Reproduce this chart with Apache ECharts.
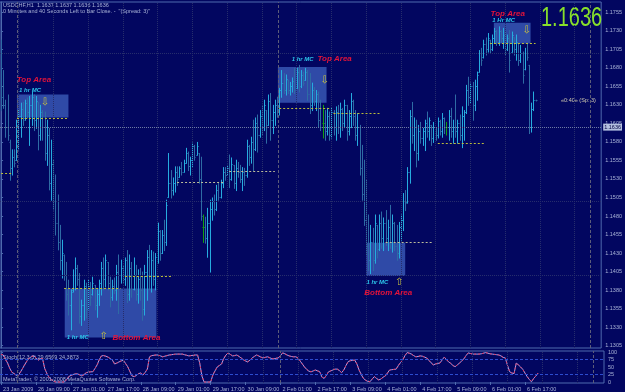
<!DOCTYPE html>
<html><head><meta charset="utf-8">
<script src="https://cdn.jsdelivr.net/npm/echarts@6/dist/echarts.min.js"></script>
<style>html,body{margin:0;padding:0;background:#020660;}#c{width:625px;height:392px;}</style>
</head><body><div id="c"></div><script>
// ---------- DATA (prices in pips: 11650 = 1.1650) ----------
const tickLabels = ['23 Jan 2009','26 Jan 09:00','27 Jan 01:00','27 Jan 17:00','28 Jan 09:00','29 Jan 01:00','29 Jan 17:00','30 Jan 09:00','2 Feb 01:00','2 Feb 17:00','3 Feb 09:00','4 Feb 01:00','4 Feb 17:00','5 Feb 09:00','6 Feb 01:00','6 Feb 17:00'];
const tickIndex = [0,16,32,48,64,80,96,112,128,144,160,176,192,208,224,240];
const priceTicks = [1.1305,1.1330,1.1355,1.1380,1.1405,1.1430,1.1455,1.1480,1.1505,1.1530,1.1555,1.1580,1.1605,1.1630,1.1655,1.1680,1.1705,1.1730,1.1755];
const gridPrices = [1.1355,1.1430,1.1505,1.1580,1.1655,1.1730];
const gridBars = [8,24,40,56,72,88,104,120,136,152,168,184,200,216,232,248,264];
const separatorBars = [7.3,127.7,271.2];
const stochTicks = [0,25,50,75,100];
const stochLevels = [25,75];

const open = [
11700,11640,11630,11600,11580,11545,11560,11556,11600,11615,
11625,11612,11632,11620,11630,11640,11610,11634,11590,11620,
11600,11565,11590,11525,11550,11500,11470,11445,11420,11428,
11400,11375,11360,11380,11400,11410,11395,11345,11360,11385,
11355,11385,11375,11387,11360,11375,11390,11410,11395,11418,
11390,11370,11385,11380,11405,11400,11410,11395,11420,11375,
11410,11382,11400,11375,11395,11380,11355,11405,11425,11400,
11420,11395,11425,11460,11430,11455,11445,11506,11525,11515,
11525,11540,11533,11545,11540,11552,11565,11548,11556,11575,
11563,11565,11530,11465,11465,11450,11470,11490,11500,11490,
11515,11505,11525,11540,11536,11545,11530,11549,11525,11545,
11540,11530,11540,11535,11575,11560,11580,11570,11605,11590,
11615,11600,11623,11603,11635,11610,11620,11630,11625,11650,
11660,11650,11664,11650,11655,11662,11653,11675,11655,11670,
11664,11675,11645,11630,11650,11635,11645,11610,11605,11605,
11595,11615,11590,11620,11600,11620,11600,11625,11605,11630,
11595,11615,11635,11615,11590,11600,11545,11510,11475,11440,
11420,11445,11420,11468,11435,11470,11450,11470,11450,11465,
11445,11470,11440,11430,11465,11475,11500,11499,11540,11615,
11590,11600,11565,11595,11585,11595,11605,11595,11603,11585,
11600,11590,11608,11595,11612,11600,11600,11615,11595,11600,
11595,11605,11590,11615,11620,11650,11640,11655,11630,11655,
11675,11700,11694,11712,11705,11718,11705,11720,11730,11715,
11730,11720,11725,11705,11720,11702,11721,11705,11714,11690,
11700,11678,11700,11684,11600,11625,11637];
const high = [
11718,11677,11637,11644,11583,11570,11570,11610,11624,11633,
11634,11637,11640,11642,11648,11644,11642,11634,11630,11623,
11621,11610,11599,11583,11556,11536,11509,11468,11448,11428,
11418,11394,11381,11408,11424,11414,11403,11367,11394,11390,
11394,11391,11398,11387,11381,11394,11418,11424,11428,11418,
11398,11394,11397,11414,11428,11421,11414,11424,11434,11428,
11418,11424,11414,11408,11410,11405,11414,11434,11441,11434,
11432,11430,11471,11461,11461,11475,11502,11565,11542,11532,
11547,11547,11547,11553,11556,11572,11567,11560,11579,11576,
11580,11565,11560,11482,11479,11491,11502,11505,11509,11522,
11526,11529,11546,11546,11549,11563,11559,11549,11556,11553,
11549,11546,11545,11583,11576,11587,11610,11613,11617,11623,
11630,11637,11623,11644,11646,11630,11637,11641,11653,11677,
11673,11671,11664,11661,11667,11680,11680,11684,11677,11675,
11680,11677,11673,11660,11654,11650,11648,11637,11630,11623,
11626,11621,11626,11623,11628,11630,11633,11626,11637,11630,
11623,11646,11637,11623,11619,11603,11576,11556,11529,11482,
11468,11464,11482,11468,11482,11486,11478,11488,11475,11495,
11482,11472,11468,11472,11482,11511,11515,11546,11623,11634,
11613,11610,11603,11607,11599,11610,11621,11613,11603,11607,
11600,11613,11610,11619,11613,11607,11623,11626,11610,11644,
11610,11617,11628,11623,11657,11668,11660,11661,11664,11675,
11704,11707,11718,11721,11727,11718,11725,11734,11731,11736,
11731,11734,11729,11725,11731,11729,11721,11725,11714,11711,
11702,11707,11714,11684,11633,11648,11637];
const low = [
11623,11626,11587,11583,11529,11536,11547,11556,11570,11587,
11603,11610,11613,11576,11603,11596,11599,11570,11583,11583,
11556,11549,11516,11502,11489,11455,11435,11408,11397,11394,
11367,11347,11327,11378,11381,11387,11336,11333,11340,11343,
11354,11360,11374,11354,11344,11360,11374,11381,11385,11381,
11358,11367,11376,11367,11349,11390,11391,11387,11364,11367,
11371,11381,11367,11363,11367,11340,11347,11367,11381,11378,
11387,11381,11417,11421,11430,11434,11441,11506,11505,11509,
11513,11522,11533,11536,11540,11552,11542,11536,11547,11556,
11563,11525,11475,11445,11444,11425,11405,11475,11482,11488,
11502,11505,11519,11529,11536,11519,11529,11518,11515,11533,
11526,11515,11522,11533,11549,11552,11542,11569,11567,11587,
11590,11596,11579,11603,11583,11592,11603,11614,11617,11641,
11646,11644,11646,11644,11648,11646,11653,11648,11654,11657,
11664,11637,11619,11623,11630,11623,11601,11596,11586,11583,
11590,11583,11586,11590,11583,11592,11587,11596,11600,11583,
11590,11600,11603,11583,11576,11536,11502,11468,11428,11407,
11403,11407,11417,11424,11434,11437,11434,11441,11434,11437,
11432,11434,11421,11424,11448,11461,11488,11498,11525,11579,
11569,11547,11556,11579,11576,11569,11587,11583,11576,11580,
11583,11586,11590,11587,11592,11590,11583,11587,11579,11587,
11579,11583,11573,11583,11619,11630,11633,11610,11623,11637,
11675,11684,11694,11698,11702,11700,11704,11714,11711,11711,
11715,11707,11698,11704,11675,11702,11698,11691,11684,11688,
11660,11678,11691,11592,11594,11623,11636];
const close = [
11640,11630,11600,11590,11545,11560,11552,11600,11615,11625,
11610,11632,11620,11630,11640,11610,11635,11590,11620,11600,
11565,11590,11525,11550,11500,11470,11445,11420,11430,11400,
11375,11360,11378,11400,11410,11395,11345,11360,11385,11355,
11385,11370,11390,11360,11375,11390,11410,11395,11420,11390,
11370,11385,11380,11405,11400,11410,11395,11420,11375,11410,
11382,11400,11375,11395,11380,11355,11405,11425,11400,11420,
11395,11425,11460,11430,11455,11445,11495,11525,11515,11525,
11540,11530,11545,11540,11552,11565,11548,11556,11575,11560,
11575,11530,11480,11465,11450,11470,11490,11500,11490,11515,
11505,11525,11540,11535,11545,11530,11550,11525,11545,11540,
11530,11540,11535,11575,11560,11580,11570,11605,11590,11615,
11600,11630,11600,11635,11610,11620,11630,11625,11650,11660,
11650,11665,11650,11655,11662,11650,11675,11655,11670,11660,
11675,11645,11630,11650,11635,11645,11610,11600,11605,11595,
11615,11590,11620,11600,11620,11600,11625,11605,11630,11595,
11615,11635,11615,11590,11600,11545,11510,11475,11440,11420,
11445,11420,11470,11435,11470,11450,11470,11450,11465,11445,
11470,11440,11430,11465,11475,11500,11497,11540,11615,11590,
11600,11565,11595,11585,11595,11605,11595,11610,11585,11600,
11590,11608,11595,11612,11600,11600,11615,11595,11600,11595,
11605,11590,11615,11620,11650,11640,11655,11630,11655,11670,
11700,11690,11712,11705,11720,11705,11720,11730,11715,11730,
11720,11725,11705,11720,11690,11725,11705,11715,11690,11700,
11670,11700,11695,11600,11625,11637,11636];
const stoch = [
92,90,75,63,45,32,28,22,23,35,
47,60,72,80,85,87,80,73,78,78,
45,28,15,8,3,0,0,0,0,0,
8,18,22,25,27,27,24,20,25,31,
33,34,34,45,57,75,87,88,86,83,
78,73,60,63,67,70,73,62,51,35,
20,18,22,28,30,23,32,43,84,88,
89,90,90,87,84,86,88,90,91,92,
93,93,93,93,91,89,87,88,89,90,
90,63,20,0,0,0,0,23,37,50,
55,60,78,90,97,92,87,88,90,85,
80,74,70,67,73,80,85,90,87,83,
80,82,84,81,78,77,79,80,88,97,
94,90,87,85,84,84,80,70,60,50,
42,36,34,37,40,37,34,16,12,22,
34,37,40,43,43,38,31,40,55,68,
71,72,73,60,40,25,12,6,2,1,
10,18,12,7,10,16,20,30,40,41,
42,43,55,65,73,88,98,96,93,88,
84,85,87,86,83,80,72,64,57,60,
62,63,73,83,75,67,62,55,51,57,
63,70,77,88,97,95,93,93,93,93,
94,96,98,96,94,93,92,91,90,87,
82,80,55,34,30,28,63,57,50,42,
30,18,8,1,12,20,30];

// dashed daily levels: [fromBar, toBar, price(pips), light?]
const levels = [[0,5,11538,0],[7.3,31,11612,0],[29,55,11382,0],[57,79,11399,0],[81,103,11525,1],[105,126,11540,1],[128,152,11626,0],[153,175,11619,0],[177,199,11444,1],[201,223,11578,0],[225,246,11713,0]];
// MC boxes: [fromBar, toBar, topPrice, bottomPrice]
const boxes = [[7.3,31,11644,11613],[29.3,71.5,11382,11316],[127.4,149.8,11681,11633],[168,186,11444,11399],[226.8,243.7,11741,11713]];
// annotations: [text, bar, price, kind]
const notes = [
 ['Top Area',15.1,11664,'area'],['1 hr MC',13.3,11650,'mc'],['⇩',20.2,11634,'arrow'],
 ['1 hr MC',35.3,11316,'mc'],['⇧',47.2,11317,'arrow'],['Bottom Area',62.3,11316,'area'],
 ['1 hr MC',138.8,11691,'mc'],['Top Area',153.5,11692,'area'],['⇩',148.9,11663,'arrow'],
 ['1 hr MC',173.2,11390,'mc'],['⇧',183.2,11391,'arrow'],['Bottom Area',178.2,11376,'area'],
 ['Top Area',233.2,11753,'area'],['1 Hr MC',231.3,11744,'mc'],['⇩',241.9,11730,'arrow']];
const symbolName = 'USDCHF,H1';
const timerText = '0 Minutes and 40 Seconds Left to Bar Close. -  "(Spread: 3)"';
const spreadText = '«0:40» (Sp: 3)';
const stochTitle = 'Stoch(12,3,3) 29.6569 24.3873';
const copyright = 'MetaTrader, © 2001-2008 MetaQuotes Software Corp.';

// ---------- BUILD ----------
const P = v => v / 10000;
const N = high.length;
const upBars = [], downBars = [], dojiBars = [];
for (let i = 0; i < N; i++) {
  const row = [i, P(open[i]), P(close[i]), P(low[i]), P(high[i])];
  if (close[i] > open[i]) upBars.push(row); else if (close[i] < open[i]) downBars.push(row); else dojiBars.push(row);
}
const stochData = stoch.map((v, i) => [i, v]);
const lastPrice = P(close[N - 1]);
const f4 = v => v.toFixed(4);
const infoLine = symbolName + '  ' + [open[N-1], high[N-1], low[N-1], close[N-1]].map(v => f4(P(v))).join(' ');

const BG = '#020660', FRAME = '#4F6AAE', TXT = '#A8B2D6', GRIDC = '#262D6C', SEPC = '#5C5C78';
const UP = '#26ACDF', DOWN = '#2E6BA4', DOJI = '#12A012';
const FONT = 'Liberation Sans';
const XMIN = -0.5, XMAX = 276.2;

const annoStyle = {
  area: {color: '#E3143A', fontSize: 8, fontWeight: 'bold', fontStyle: 'italic', fontFamily: FONT},
  mc: {color: '#2CC6EA', fontSize: 6, fontWeight: 'bold', fontStyle: 'italic', fontFamily: FONT},
  arrow: {color: '#C8C040', fontSize: 10, fontFamily: 'DejaVu Sans'}
};

function barRenderer(params, api) {
  const i = api.value(0), o = api.value(1), c = api.value(2), l = api.value(3), h = api.value(4);
  const pH = api.coord([i, h]), pL = api.coord([i, l]), pO = api.coord([i, o]), pC = api.coord([i, c]);
  const x = Math.round(pH[0]) + 0.5;
  const col = api.visual('color');
  const yo = Math.round(pO[1]) + 0.5, yc = Math.round(pC[1]) + 0.5;
  const st = {stroke: col, fill: null, lineWidth: 1};
  return {type: 'group', children: [
    {type: 'line', shape: {x1: x, y1: pH[1], x2: x, y2: pL[1] + 1}, style: st},
    {type: 'line', shape: {x1: x - 1, y1: yo, x2: x, y2: yo}, style: st},
    {type: 'line', shape: {x1: x, y1: yc, x2: x + 1, y2: yc}, style: st}
  ]};
}
const barSeries = (data, color) => ({type: 'custom', xAxisIndex: 0, yAxisIndex: 0, z: 3, data, silent: true,
  itemStyle: {color}, encode: {x: 0, y: [1, 2, 3, 4]}, renderItem: barRenderer});

const chart = echarts.init(document.getElementById('c'), null, {renderer: 'canvas'});
const vline = (vals, style) => vals.map(v => ({xAxis: v, lineStyle: style}));

chart.setOption({
  backgroundColor: BG,
  animation: false,
  textStyle: {fontFamily: FONT},
  grid: [
    {left: 0, top: 2, width: 604, height: 346, show: true, borderColor: FRAME, borderWidth: 1, backgroundColor: 'transparent'},
    {left: 0, top: 351, width: 604, height: 32, show: true, borderColor: FRAME, borderWidth: 1, backgroundColor: 'transparent'}
  ],
  xAxis: [
    {type: 'value', gridIndex: 0, min: XMIN, max: XMAX, axisLine: {show: false}, axisTick: {show: false}, axisLabel: {show: false}, splitLine: {show: false}},
    {type: 'value', gridIndex: 1, min: XMIN, max: XMAX, axisLine: {show: false}, splitLine: {show: false},
      axisTick: {show: true, customValues: tickIndex, length: 3, lineStyle: {color: FRAME}},
      axisLabel: {show: true, customValues: tickIndex, formatter: v => tickLabels[tickIndex.indexOf(Math.round(v))] || '', align: 'left', margin: 3, fontSize: 5.5, color: TXT, fontFamily: FONT, padding: [0, 0, 0, 2]}}
  ],
  yAxis: [
    {type: 'value', gridIndex: 0, position: 'right', min: 1.13018, max: 1.17689, splitLine: {show: false},
      axisLine: {show: true, lineStyle: {color: FRAME}},
      axisTick: {show: true, customValues: priceTicks, length: 2, lineStyle: {color: FRAME}},
      axisLabel: {customValues: priceTicks, formatter: v => f4(v), fontSize: 5.5, color: TXT, margin: 4, fontFamily: FONT}},
    {type: 'value', gridIndex: 1, position: 'right', min: -3.3, max: 103.3, splitLine: {show: false},
      axisLine: {show: true, lineStyle: {color: FRAME}},
      axisTick: {show: true, customValues: stochTicks, length: 2, lineStyle: {color: FRAME}},
      axisLabel: {customValues: stochTicks, fontSize: 5.5, color: TXT, margin: 4, fontFamily: FONT}}
  ],
  series: [
    { // background objects: grid, boxes, separators, levels
      type: 'line', xAxisIndex: 0, yAxisIndex: 0, data: [], z: 1, silent: true,
      markArea: {silent: true, itemStyle: {color: 'rgba(86,132,226,0.55)'},
        data: boxes.map(b => [{coord: [b[0], P(b[2])]}, {coord: [b[1], P(b[3])]}])},
      markLine: {silent: true, symbol: ['none', 'none'], label: {show: false}, animation: false,
        data: [].concat(
          gridPrices.map(p => ({yAxis: p, lineStyle: {color: GRIDC, type: 'dotted', width: 1}})),
          vline(gridBars, {color: GRIDC, type: 'dotted', width: 1}),
          vline(separatorBars, {color: SEPC, type: [3, 2], width: 1}),
          levels.map(l => [{coord: [l[0], P(l[2])], lineStyle: {color: l[3] ? '#BDBD9A' : '#BCBC3A', type: [2, 2], width: 1}}, {coord: [l[1], P(l[2])]}])
        )}
    },
    barSeries(upBars, UP),
    barSeries(downBars, DOWN),
    barSeries(dojiBars, DOJI),
    { // current price line + annotations
      type: 'line', xAxisIndex: 0, yAxisIndex: 0, data: [], z: 6, silent: true,
      markLine: {silent: true, symbol: ['none', 'none'], animation: false,
        data: [{yAxis: lastPrice, lineStyle: {color: '#6E7AA4', type: 'dotted', width: 1},
          label: {show: true, position: 'end', formatter: f4(lastPrice), color: '#000040', backgroundColor: '#B4C0E0', fontSize: 5.5, padding: [1, 1, 0, 1], distance: 2, fontFamily: FONT}}]},
      markPoint: {silent: true, symbol: 'rect', symbolSize: 1, itemStyle: {color: 'rgba(0,0,0,0)'},
        data: notes.map(n => ({coord: [n[1], P(n[2])], label: Object.assign({show: true, position: 'inside', formatter: n[0]}, annoStyle[n[3]])}))}
    },
    { // stochastic panel objects
      type: 'line', xAxisIndex: 1, yAxisIndex: 1, data: [], z: 1, silent: true,
      markLine: {silent: true, symbol: ['none', 'none'], label: {show: false}, animation: false,
        data: [].concat(
          vline(gridBars, {color: GRIDC, type: 'dotted', width: 1}),
          vline(separatorBars, {color: SEPC, type: [3, 2], width: 1}),
          stochLevels.map(v => ({yAxis: v, lineStyle: {color: '#2D4CD0', type: [3, 2], width: 1}}))
        )}
    },
    {type: 'line', xAxisIndex: 1, yAxisIndex: 1, data: stochData, showSymbol: false, z: 3, silent: true, lineStyle: {color: '#A4A6EE', width: 1}},
    {type: 'line', xAxisIndex: 1, yAxisIndex: 1, data: stochData, showSymbol: false, z: 4, silent: true, lineStyle: {color: '#E0305A', width: 1, type: [2, 2]}}
  ],
  graphic: [
    {type: 'text', left: 3, top: 2, style: {text: infoLine, fill: TXT, fontSize: 5.5, fontFamily: FONT}},
    {type: 'text', left: 3, top: 8.5, style: {text: timerText, fill: TXT, fontSize: 5.5, fontFamily: FONT}},
    {type: 'text', x: 541, y: 5, scaleX: 0.74, style: {text: f4(lastPrice), fill: '#88E02A', fontSize: 27, fontFamily: FONT, textVerticalAlign: 'top', textAlign: 'left'}},
    {type: 'text', left: 561, top: 97, style: {text: spreadText, fill: '#D2CBB0', fontSize: 5.5, fontFamily: FONT}},
    {type: 'text', left: 3, top: 354, style: {text: stochTitle, fill: TXT, fontSize: 5.5, fontFamily: FONT}},
    {type: 'text', left: 3, top: 376, style: {text: copyright, fill: TXT, fontSize: 5.5, fontFamily: FONT}}
  ].concat([open, high, low, close, stoch].some(a => a.length !== N) ? [{type: 'text', left: 200, top: 200, style: {text: 'LEN MISMATCH ' + [open, high, low, close, stoch].map(a => a.length).join(','), fill: '#fff', fontSize: 14}}] : [])
});
</script></body></html>
